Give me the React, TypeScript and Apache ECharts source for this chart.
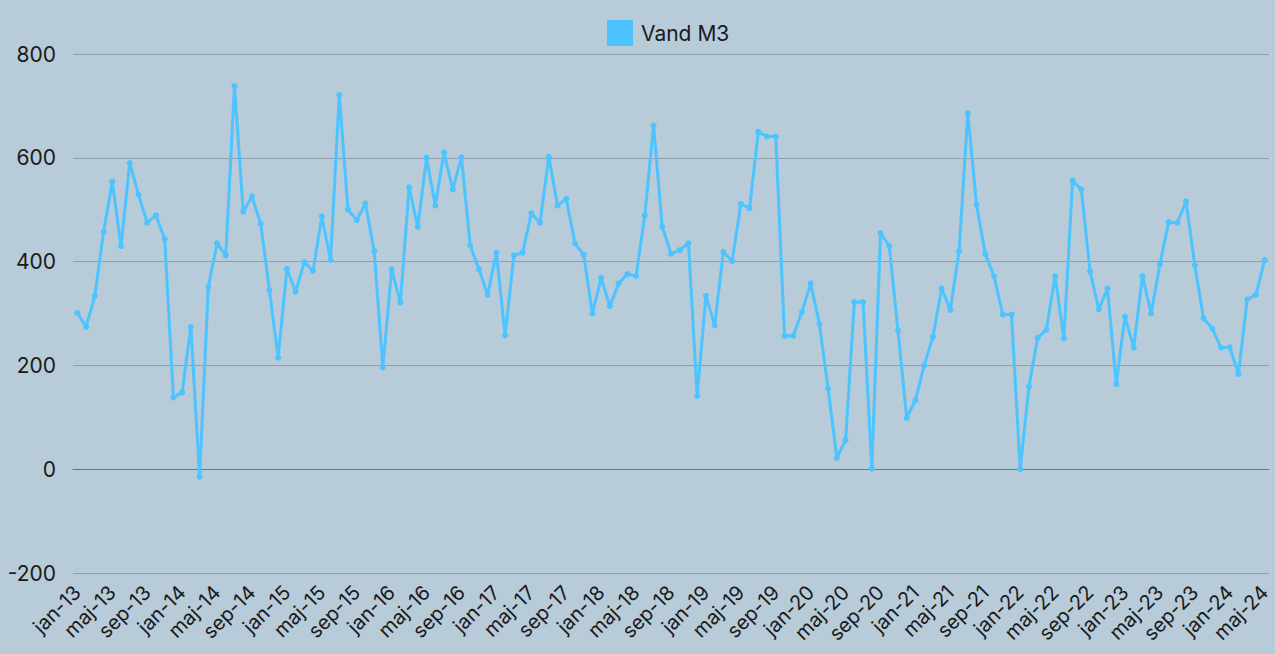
import React, { useEffect, useRef } from "react";
import * as echarts from "echarts";

const monthNames = ["jan", "feb", "mar", "apr", "maj", "jun", "jul", "aug", "sep", "okt", "nov", "dec"];
const years = [13, 14, 15, 16, 17, 18, 19, 20, 21, 22, 23, 24];

const v2013 = [301, 274, 334, 457, 554, 430, 590, 529, 475, 489, 444, 138];
const v2014 = [148, 274, -15, 351, 435, 412, 738, 496, 526, 473, 345, 215];
const v2015 = [386, 342, 399, 382, 487, 403, 721, 500, 480, 512, 420, 196];
const v2016 = [385, 321, 543, 467, 600, 508, 610, 539, 601, 431, 385, 336];
const v2017 = [417, 258, 412, 417, 493, 475, 602, 508, 521, 435, 413, 300];
const v2018 = [369, 314, 358, 376, 372, 489, 662, 467, 415, 422, 435, 141];
const v2019 = [334, 277, 419, 401, 511, 503, 650, 641, 641, 257, 257, 303];
const v2020 = [358, 280, 155, 22, 56, 322, 322, 1, 455, 430, 267, 99];
const v2021 = [133, 200, 255, 348, 307, 420, 686, 509, 415, 372, 298, 298];
const v2022 = [0, 159, 253, 269, 372, 252, 556, 539, 381, 308, 348, 164];
const v2023 = [294, 234, 372, 300, 395, 476, 475, 516, 393, 291, 271, 234];
const v2024 = [235, 183, 327, 336, 403];

const yearValues = [v2013, v2014, v2015, v2016, v2017, v2018, v2019, v2020, v2021, v2022, v2023, v2024];

const categories: string[] = [];
const values: number[] = [];
yearValues.forEach((arr, yi) => {
  arr.forEach((v, mi) => {
    categories.push(`${monthNames[mi]}-${years[yi]}`);
    values.push(v);
  });
});

const FONT = "Inter, 'Liberation Sans', Arial, sans-serif";
const LINE_COLOR = "#4dc4ff";

export default function App() {
  const ref = useRef<HTMLDivElement>(null);
  useEffect(() => {
    if (!ref.current) return;
    const chart = echarts.init(ref.current, undefined, { renderer: "svg" });
    chart.setOption({
      animation: false,
      backgroundColor: "#b7cbd9",
      textStyle: { fontFamily: FONT },
      legend: {
        top: 15,
        left: 602,
        icon: "rect",
        itemWidth: 26,
        itemHeight: 26,
        textStyle: { fontSize: 21, color: "#1a1a1a", fontFamily: FONT, padding: [0, 0, 0, 3] },
        data: ["Vand M3"],
      },
      grid: { left: 73, right: 6, top: 54, bottom: 81, containLabel: false },
      xAxis: {
        type: "category",
        data: categories,
        boundaryGap: true,
        axisLine: { onZero: true, lineStyle: { color: "#6b7884", width: 1 } },
        axisTick: { show: false },
        axisLabel: {
          interval: 3,
          rotate: 45,
          fontSize: 20,
          color: "#1a1a1a",
          fontFamily: FONT,
          margin: 16,
        },
        splitLine: { show: false },
      },
      yAxis: {
        type: "value",
        min: -200,
        max: 800,
        interval: 200,
        axisLine: { show: false },
        axisTick: { show: false },
        axisLabel: { fontSize: 21, color: "#1a1a1a", fontFamily: FONT, margin: 17 },
        splitLine: { lineStyle: { color: "#8e9eab", width: 1 } },
      },
      series: [
        {
          name: "Vand M3",
          type: "line",
          data: values,
          color: LINE_COLOR,
          symbol: "circle",
          symbolSize: 6,
          showSymbol: true,
          showAllSymbol: true,
          lineStyle: { width: 3, color: LINE_COLOR },
          itemStyle: { color: LINE_COLOR },
        },
      ],
    });
    return () => chart.dispose();
  }, []);
  return (
    <div
      ref={ref}
      style={{ position: "fixed", left: 0, top: 0, width: 1275, height: 654 }}
    />
  );
}
